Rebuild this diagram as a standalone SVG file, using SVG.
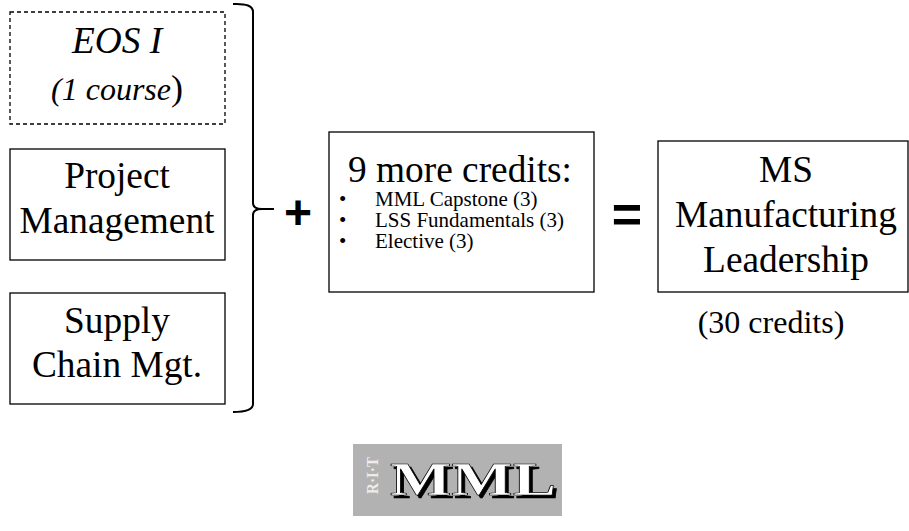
<svg xmlns="http://www.w3.org/2000/svg" width="909" height="531" viewBox="0 0 909 531">
<style>
.box{fill:#ffffff;stroke:#000000;stroke-width:1.3}
.dash{stroke-dasharray:4 3}
.t{font-family:"Liberation Serif","Times New Roman",serif;fill:#000000;text-anchor:middle}
.big{font-size:37.33px}
.it{font-style:italic}
.sm{font-size:21px;text-anchor:start}
.op{font-family:"Liberation Sans",Arial,sans-serif;font-weight:bold;fill:#000000;text-anchor:middle}
</style>
<defs>
<filter id="shadow" x="-10%" y="-20%" width="130%" height="150%">
<feOffset in="SourceAlpha" dx="2.5" dy="2.5" result="o"/>
<feMerge><feMergeNode in="o"/><feMergeNode in="SourceGraphic"/></feMerge>
</filter>
</defs>
<rect width="909" height="531" fill="#ffffff"/>
<g id="eos">
<rect class="box dash" x="10" y="12" width="215" height="112"/>
<text class="t big it" x="117" y="53">EOS I</text>
<text class="t it" x="117" y="100" font-size="32">(1 course<tspan font-style="normal" font-size="36">)</tspan></text>
</g>
<g id="pm">
<rect class="box" x="10" y="149" width="215" height="111"/>
<text class="t big" x="117" y="188">Project</text>
<text class="t big" x="117" y="233">Management</text>
</g>
<g id="scm">
<rect class="box" x="10" y="293" width="215" height="111"/>
<text class="t big" x="117" y="333">Supply</text>
<text class="t big" x="117" y="377">Chain Mgt.</text>
</g>
<g id="connectors">
<path d="M233 4 Q253 3 253 12 L253 203 Q253 209 262 209 L274 209 M262 209 Q253 209 253 215 L253 404 Q253 412 233 412" fill="none" stroke="#000000" stroke-width="2"/>
</g>
<g id="plus">
<text class="op" x="298" y="229" font-size="48">+</text>
</g>
<g id="more">
<rect class="box" x="329" y="132" width="265" height="160"/>
<text class="t big" x="460" y="182">9 more credits:</text>
<text class="t sm" x="339" y="206">•<tspan x="375">MML Capstone (3)</tspan></text>
<text class="t sm" x="339" y="227">•<tspan x="375">LSS Fundamentals (3)</tspan></text>
<text class="t sm" x="339" y="248">•<tspan x="375">Elective (3)</tspan></text>
</g>
<g id="equals">
<text class="op" x="627" y="232" font-size="52">=</text>
</g>
<g id="ms">
<rect class="box" x="658" y="141" width="250" height="151"/>
<text class="t big" x="786" y="182">MS</text>
<text class="t big" x="786" y="227">Manufacturing</text>
<text class="t big" x="786" y="272">Leadership</text>
<text class="t" x="771" y="333" font-size="32">(30 credits)</text>
</g>
<g id="logo">
<rect x="353" y="444" width="209" height="72" fill="#b2b2b2"/>
<text x="0" y="0" transform="translate(378 494) rotate(-90)" font-family="Liberation Serif,serif" font-weight="bold" font-size="16" fill="#ececec" textLength="37" lengthAdjust="spacingAndGlyphs">R·I·T</text>
<text x="390" y="495" font-family="Liberation Serif,serif" font-weight="bold" font-size="46" fill="#ffffff" stroke="#000000" stroke-width="0.6" textLength="166" lengthAdjust="spacingAndGlyphs" filter="url(#shadow)">MML</text>
</g>
</svg>
